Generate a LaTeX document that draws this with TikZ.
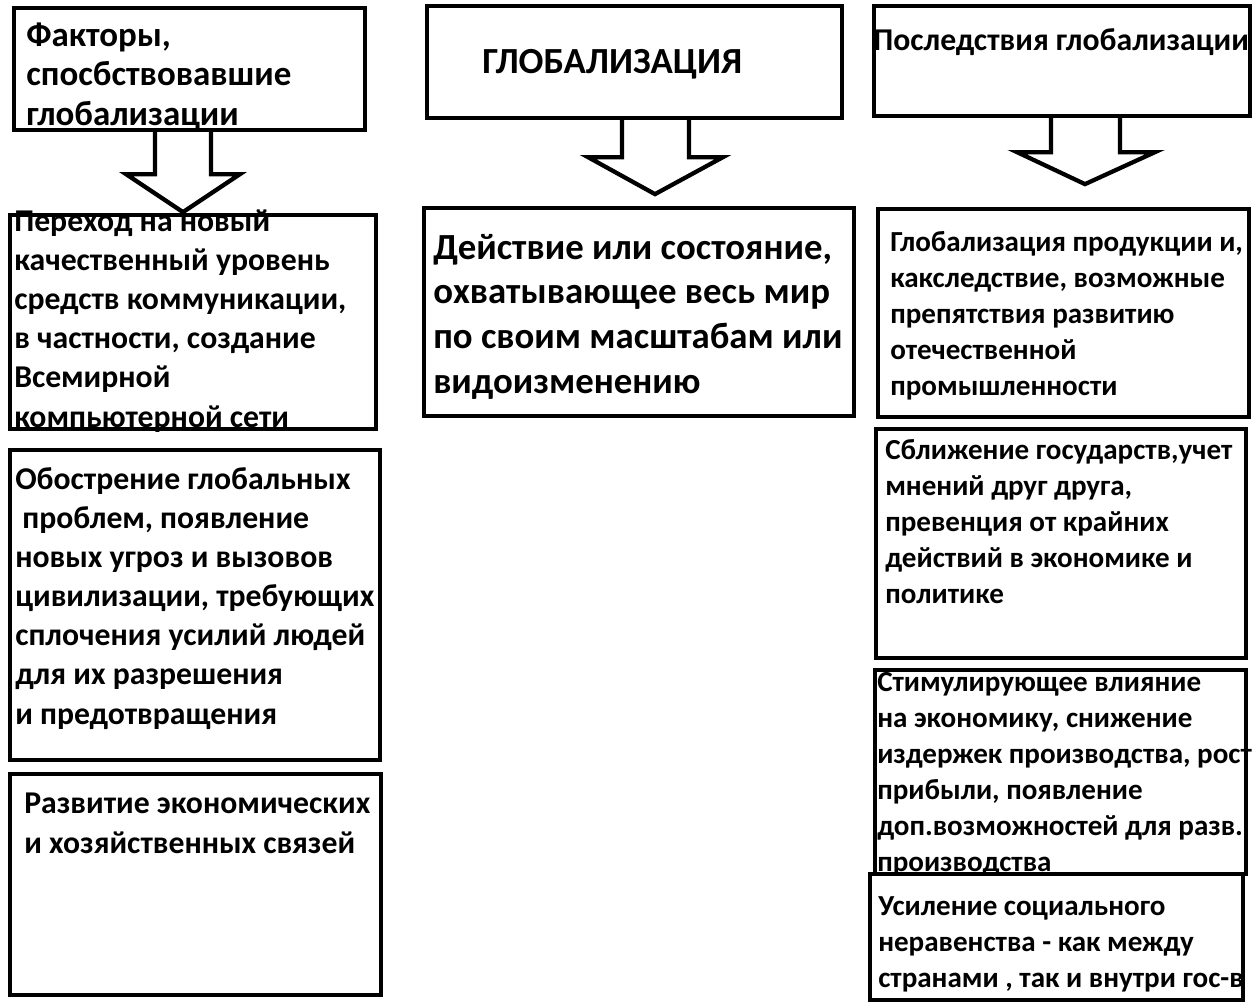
\documentclass[tikz,border=0pt]{standalone}
\usepackage{fontspec}
\setmainfont{Carlito}
\usetikzlibrary{calc}
\tikzset{
  frame/.style={draw=black, line width=3.2pt, inner sep=0pt, fill=none},
  blockarrow/.style={draw=black, line width=3.2pt, line join=miter},
  txt/.style={inner sep=0pt, align=left, anchor=base west, text=black},
  lft/.style={txt, font={\fontsize{23.8}{29.3}\selectfont\bfseries}},
  big/.style={txt, font={\fontsize{26.2}{29.6}\selectfont\bfseries}},
  rgt/.style={txt, font={\fontsize{21.8}{27}\selectfont\bfseries}},
  mid/.style={txt, font={\fontsize{27.6}{33.5}\selectfont\bfseries}},
}
% text nodes are anchored at the baseline of their last line
\newcommand{\myframe}[5]{%
  \node[frame, minimum width={(#4-#2)*0.75pt}, minimum height={(#5-#3)*0.75pt}] (#1) at ({(#2+#4)/2},{(#3+#5)/2}) {};}
\begin{document}
\begin{tikzpicture}[x=0.75pt,y=-0.75pt]
\useasboundingbox (0,0) rectangle (1254,1004);
% texts
\node[big] (t1) at (26,125) {Факторы,\\спосбствовавшие\\глобализации};
\node[lft] (t2) at (14,427) {Переход на новый\\качественный уровень\\средств коммуникации,\\в частности, создание\\Всемирной\\компьютерной сети};
\node[lft] (t3) at (15,724) {Обострение глобальных\\\ проблем, появление\\новых угроз и вызовов\\цивилизации, требующих\\сплочения усилий людей\\для их разрешения\\и предотвращения};
\node[lft] (t4) at (24,853) {Развитие экономических\\и хозяйственных связей};
\node[mid] (t5) at (482,73) {ГЛОБАЛИЗАЦИЯ};
\node[mid] (tm) at (433,393) {Действие или состояние,\\охватывающее весь мир\\по своим масштабам или\\видоизменению};
\node[lft] (t6) at (873,50) {Последствия глобализации};
\node[rgt] (t7) at (890,395) {Глобализация продукции и,\\какследствие, возможные\\препятствия развитию\\отечественной\\промышленности};
\node[rgt] (t8) at (885,603) {Сближение государств,учет\\мнений друг друга,\\превенция от крайних\\действий в экономике и\\политике};
\node[rgt] (t9) at (877,871) {Стимулирующее влияние\\на экономику, снижение\\издержек производства, рост\\прибыли, появление\\доп.возможностей для разв.\\производства};
\node[rgt] (t10) at (878,987) {Усиление социального\\неравенства - как между\\странами , так и внутри гос-в};
% frames
\myframe{b1}{14}{8}{365}{130}
\myframe{b2}{10}{215}{376}{429}
\myframe{b3}{10}{450}{380}{760}
\myframe{b4}{10}{774}{381}{995}
\myframe{b5}{427}{6}{842}{118}
\myframe{bm}{424}{208}{854}{416}
\myframe{b6}{874}{6}{1250}{116}
\myframe{b7}{878}{209}{1249}{417}
\myframe{b8}{876}{429}{1246}{658}
\myframe{b9}{875}{670}{1246}{874}
\myframe{b10}{870}{874}{1243}{1000}
% block arrows
\draw[blockarrow] ($(b1.south)+(-34.5,0)$) -- ++(0,42) -- ++(-29,0) -- ($(b1.south)+(-6.5,80)$) -- ($(b1.south)+(50.5,42)$) -- ++(-29,0) -- ($(b1.south)+(21.5,0)$);
\draw[blockarrow] ($(b5.south)+(-12.5,0)$) -- ++(0,37) -- ++(-34,0) -- ($(b5.south)+(20.5,74)$) -- ($(b5.south)+(88.5,37)$) -- ++(-34,0) -- ($(b5.south)+(54.5,0)$);
\draw[blockarrow] ($(b6.south)+(-11,0)$) -- ++(0,34) -- ++(-34,0) -- ($(b6.south)+(23,66)$) -- ($(b6.south)+(93,34)$) -- ++(-35,0) -- ($(b6.south)+(58,0)$);
\end{tikzpicture}
\end{document}
